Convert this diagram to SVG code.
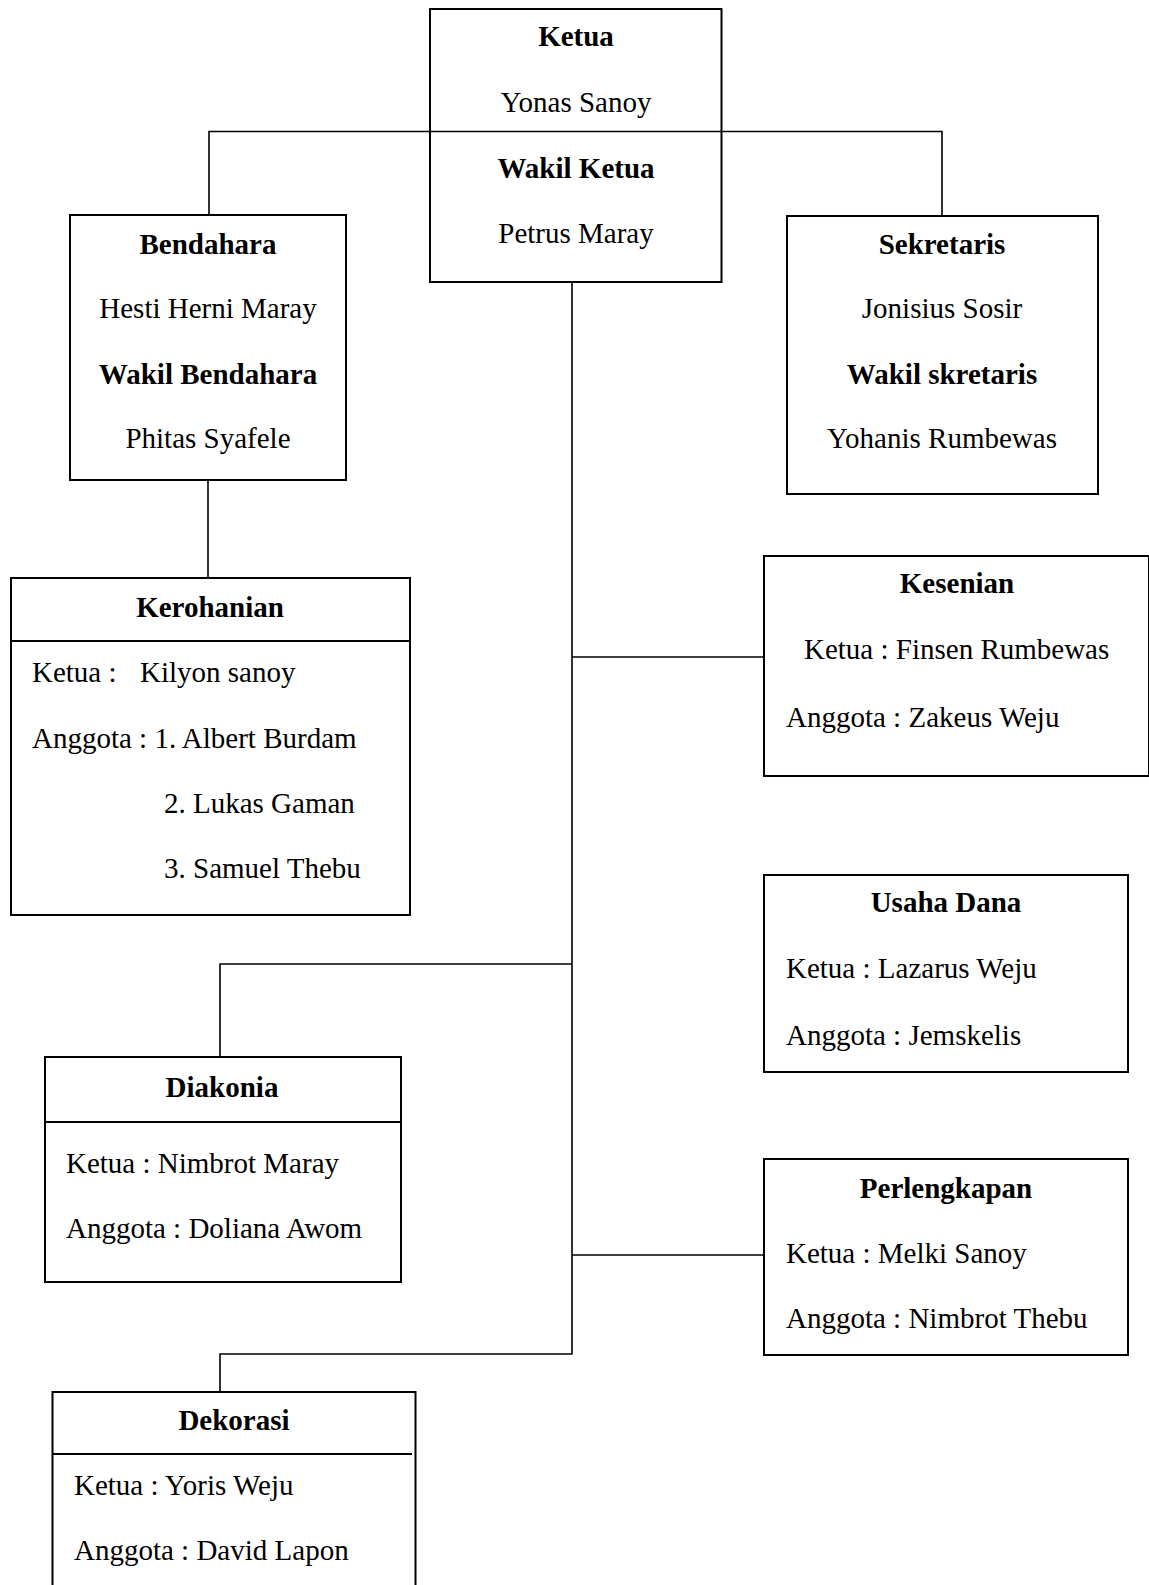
<svg xmlns="http://www.w3.org/2000/svg" width="1149" height="1585" viewBox="0 0 1149 1585">
<style>
.box{fill:#fff;stroke:#000;stroke-width:2}
.div{stroke:#000;stroke-width:2}
.con{fill:none;stroke:#000;stroke-width:1.6}
text{font-family:"Liberation Serif","Times New Roman",serif;font-size:29px;fill:#000}
.t{font-weight:bold;text-anchor:middle}
.c{text-anchor:middle}
</style>
<rect width="1149" height="1585" fill="#fff"/>
<g id="connectors">
<path class="con" d="M209,215 V131.5 H942 V216"/>
<path class="con" d="M572,282 V1354 H220 V1392"/>
<path class="con" d="M208,480 V578"/>
<path class="con" d="M572,657 H764"/>
<path class="con" d="M572,964 H220 V1057"/>
<path class="con" d="M572,1255 H764"/>
</g>
<g id="ketua">
<rect class="box" x="430" y="9" width="291.5" height="273"/>
<line class="con" x1="430" y1="131.5" x2="721.5" y2="131.5"/>
<text class="t" x="576" y="46">Ketua</text>
<text class="c" x="576" y="112">Yonas Sanoy</text>
<text class="t" x="576" y="178">Wakil Ketua</text>
<text class="c" x="576" y="243">Petrus Maray</text>
</g>
<g id="bendahara">
<rect class="box" x="70" y="215" width="276" height="265"/>
<text class="t" x="208" y="254">Bendahara</text>
<text class="c" x="208" y="318">Hesti Herni Maray</text>
<text class="t" x="208" y="384">Wakil Bendahara</text>
<text class="c" x="208" y="448">Phitas Syafele</text>
</g>
<g id="sekretaris">
<rect class="box" x="787" y="216" width="311" height="278"/>
<text class="t" x="942" y="254">Sekretaris</text>
<text class="c" x="942" y="318">Jonisius Sosir</text>
<text class="t" x="942" y="384">Wakil skretaris</text>
<text class="c" x="942" y="448">Yohanis Rumbewas</text>
</g>
<g id="kerohanian">
<rect class="box" x="11" y="578" width="399" height="337"/>
<line class="div" x1="11" y1="641" x2="410" y2="641"/>
<text class="t" x="210" y="617">Kerohanian</text>
<text x="32" y="682">Ketua :<tspan x="140">Kilyon sanoy</tspan></text>
<text x="32" y="748">Anggota : 1. Albert Burdam</text>
<text x="164" y="813">2. Lukas Gaman</text>
<text x="164" y="878">3. Samuel Thebu</text>
</g>
<g id="kesenian">
<rect class="box" x="764" y="556" width="385" height="220"/>
<text class="t" x="957" y="593">Kesenian</text>
<text x="804" y="659">Ketua : Finsen Rumbewas</text>
<text x="786" y="727">Anggota : Zakeus Weju</text>
</g>
<g id="usaha-dana">
<rect class="box" x="764" y="875" width="364" height="197"/>
<text class="t" x="946" y="912">Usaha Dana</text>
<text x="786" y="978">Ketua : Lazarus Weju</text>
<text x="786" y="1045">Anggota : Jemskelis</text>
</g>
<g id="diakonia">
<rect class="box" x="45" y="1057" width="356" height="225"/>
<line class="div" x1="45" y1="1122" x2="401" y2="1122"/>
<text class="t" x="222" y="1097">Diakonia</text>
<text x="66" y="1173">Ketua : Nimbrot Maray</text>
<text x="66" y="1238">Anggota : Doliana Awom</text>
</g>
<g id="perlengkapan">
<rect class="box" x="764" y="1159" width="364" height="196"/>
<text class="t" x="946" y="1198">Perlengkapan</text>
<text x="786" y="1263">Ketua : Melki Sanoy</text>
<text x="786" y="1328">Anggota : Nimbrot Thebu</text>
</g>
<g id="dekorasi">
<rect class="box" x="52.5" y="1392" width="363" height="210"/>
<line class="div" x1="52.5" y1="1454" x2="412" y2="1454"/>
<text class="t" x="234" y="1430">Dekorasi</text>
<text x="74" y="1495">Ketua : Yoris Weju</text>
<text x="74" y="1560">Anggota : David Lapon</text>
</g>
</svg>
